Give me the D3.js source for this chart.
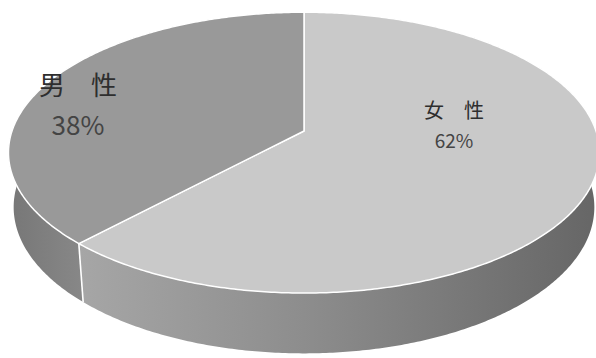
<!DOCTYPE html>
<html><head><meta charset="utf-8">
<script src="https://cdn.jsdelivr.net/npm/d3@7"></script>
<style>html,body{margin:0;padding:0;background:#fff;}svg{display:block;}</style>
</head><body>
<svg id="chart" width="596" height="358"></svg>
<script>
const categories = ["女　性", "男　性"];
const values = [62, 38];
const percentLabels = ["62%", "38%"];

const W = 596, H = 358;
const svg = d3.select("#chart");
const cx = 304, cy = 131;
const k = 292, phi = 28 * Math.PI / 180;
const s = Math.sin(phi), c = Math.cos(phi);
const D = 5.73, F = k * D, h = 0.213;

function proj(a, z) {
  const x = Math.sin(a), y = Math.cos(a);
  const depth = D + y * c - z * s;
  return [cx + F * x / depth, cy - F * (y * s + z * c) / depth];
}

const pie = d3.pie().sort(null).value(d => d)(values);
const topColors = ["#c9c9c9", "#999999"];

const defs = svg.append("defs");
const g1 = defs.append("linearGradient").attr("id", "sideF")
  .attr("gradientUnits", "userSpaceOnUse").attr("x1", 80).attr("x2", 596).attr("y1", 0).attr("y2", 0);
g1.append("stop").attr("offset", 0).attr("stop-color", "#a6a6a6");
g1.append("stop").attr("offset", 0.45).attr("stop-color", "#8c8c8c");
g1.append("stop").attr("offset", 1).attr("stop-color", "#666666");
const g2 = defs.append("linearGradient").attr("id", "sideM")
  .attr("gradientUnits", "userSpaceOnUse").attr("x1", 10).attr("x2", 80).attr("y1", 0).attr("y2", 0);
g2.append("stop").attr("offset", 0).attr("stop-color", "#777777");
g2.append("stop").attr("offset", 1).attr("stop-color", "#878787");
const sideFills = ["url(#sideF)", "url(#sideM)"];

const line = d3.line();
function arcPts(a0, a1, z) {
  const n = Math.max(2, Math.ceil((a1 - a0) / 0.01));
  return d3.range(n + 1).map(i => proj(a0 + (a1 - a0) * i / n, z));
}

// side walls
pie.forEach((p, i) => {
  const pts = arcPts(p.startAngle, p.endAngle, 0).concat(arcPts(p.startAngle, p.endAngle, -h).reverse());
  svg.append("path").attr("d", line(pts) + "Z").attr("fill", sideFills[i]);
});
// white separator on the side
const bA = pie[1].startAngle;
svg.append("path").attr("d", line([proj(bA, 0), proj(bA, -h)]))
  .attr("stroke", "#fff").attr("stroke-width", 1.6).attr("fill", "none");

// top faces
pie.forEach((p, i) => {
  const pts = [[cx, cy]].concat(arcPts(p.startAngle, p.endAngle, 0));
  svg.append("path").attr("d", line(pts) + "Z")
    .attr("fill", topColors[i]).attr("stroke", "#fff").attr("stroke-width", 1.5)
    .attr("stroke-linejoin", "round");
});

// labels
const font = "'Noto Sans CJK JP','Noto Sans',sans-serif";
const labelPos = [
  {x: 454, y1: 118, y2: 148, fs1: 20, fs2: 19},
  {x: 78, y1: 95, y2: 135, fs1: 26, fs2: 26}
];
categories.forEach((name, i) => {
  const L = labelPos[i];
  svg.append("text").attr("x", L.x).attr("y", L.y1).attr("text-anchor", "middle")
    .attr("font-family", font).attr("font-size", L.fs1).attr("fill", "#2e2e2e").text(name);
  svg.append("text").attr("x", L.x).attr("y", L.y2).attr("text-anchor", "middle")
    .attr("font-family", font).attr("font-size", L.fs2).attr("fill", "#444").text(percentLabels[i]);
});
</script>
</body></html>
